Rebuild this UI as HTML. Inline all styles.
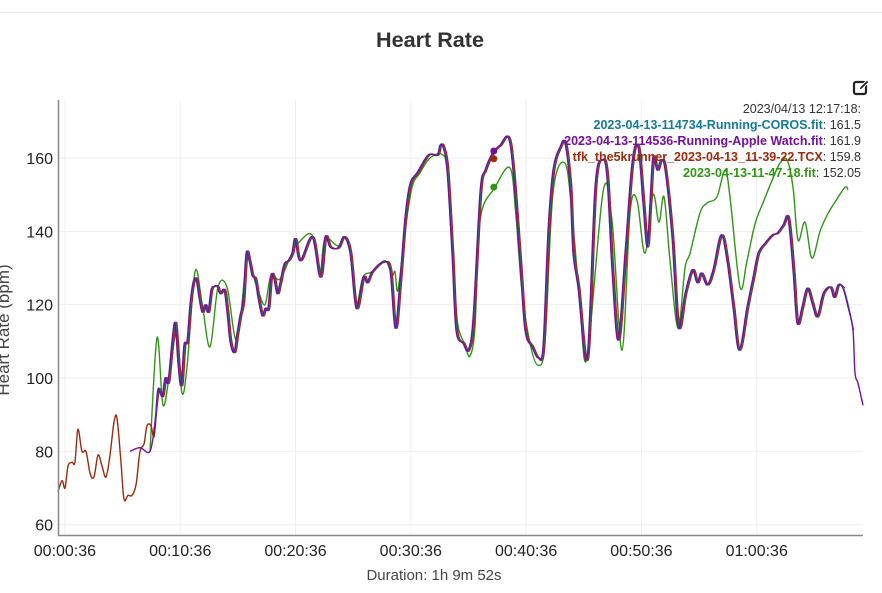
<!DOCTYPE html>
<html><head><meta charset="utf-8"><style>
html,body{margin:0;padding:0;background:#fff;width:882px;height:593px;overflow:hidden;font-family:"Liberation Sans",sans-serif}
svg{display:block}
</style></head><body>
<svg id="chart" width="882" height="593" font-family="Liberation Sans, sans-serif">
<line x1="0" y1="12.5" x2="882" y2="12.5" stroke="#e6e6e6"/>
<text x="430" y="47" text-anchor="middle" font-size="21" font-weight="bold" fill="#333" textLength="108" lengthAdjust="spacingAndGlyphs">Heart Rate</text>
<g id="grid"></g>
<g id="series"></g>
<g id="axes"></g>
<text transform="translate(9,330) rotate(-90)" text-anchor="middle" font-size="17" fill="#444">Heart Rate (bpm)</text>
<text x="434" y="580" text-anchor="middle" font-size="15" fill="#444">Duration: 1h 9m 52s</text>
<g transform="translate(853,79)">
<rect x="1" y="3" width="12" height="12" rx="2" fill="none" stroke="#222" stroke-width="2.2"/>
<path d="M6 11 L7 8 L14 1 L16 3 L9 10 Z" fill="#222" stroke="#fff" stroke-width="1"/>
</g>
<g id="legend" font-size="12.5" text-anchor="end"></g>
</svg>
<script>
const yTicks = [60, 80, 100, 120, 140, 160];
const xTickMinutes = [0.6, 10.6, 20.6, 30.6, 40.6, 50.6, 60.6];
const xTickLabels = ["00:00:36", "00:10:36", "00:20:36", "00:30:36", "00:40:36", "00:50:36", "01:00:36"];
const mainTime = [6.24,7.11,7.98,8.41,8.67,9.02,9.28,9.54,9.89,10.15,10.41,10.67,10.93,11.19,11.45,11.71,11.97,12.23,12.49,12.75,13.01,13.27,13.53,13.79,14.05,14.4,14.66,14.92,15.26,15.52,15.78,16.04,16.31,16.57,16.83,17.09,17.35,17.69,17.95,18.21,18.47,18.73,18.99,19.25,19.6,19.95,20.29,20.55,20.99,22.03,22.72,23.16,23.59,24.28,24.8,25.33,25.85,26.45,26.8,27.23,28.19,28.79,29.23,29.66,30.1,30.53,31.14,32.09,32.87,33.13,33.39,33.74,34.17,34.52,35.13,35.56,35.99,36.6,37.03,37.73,38.33,39.03,39.46,40.07,40.5,41.11,41.63,42.06,42.5,42.93,43.54,43.97,44.41,44.67,45.1,45.88,46.57,47.18,47.61,48.05,48.57,49.18,49.78,50.3,50.74,51.08,51.34,51.6,51.95,52.3,52.65,53.25,53.77,54.38,54.99,55.42,55.77,56.29,56.81,57.5,58.02,58.54,59.06,59.76,60.28,60.71,61.32,61.93,62.36,62.88,63.31,63.75,64.09,64.53,64.96,65.39,65.83,66.35,66.96,67.3,67.65,68.08,68.52,68.95,69.12,69.38,69.82];
const appleHR = [80,81,80,88,97,95,100,99,110,115,104,98,109,110,120,126,127,122,118,120,118,124,125,125,123,124,118,110,107,112,117,121,134,132,128,127,122,117,119,119,128,127,123,126,131,132,134,138,132,138.5,127.5,138.5,135.7,135.5,138.5,134,119,127.5,126,129,131.6,129.5,113.6,126.7,144,153,156,160.8,160.8,163.5,163,156.7,134,113,109.5,107.6,116,150.5,156.7,161.6,163.5,165.7,156.7,131.4,113,108.5,105.5,108.5,140,156.7,163,164,152,134,124.8,105.5,152,159.5,154.8,129.5,110.4,134,158.6,163,147.7,135.7,147.7,160.3,156.7,159.5,156.7,138.5,113.9,123,129.5,126,128.6,125.4,129.5,139,132,119.4,107.6,119.4,127.5,134,136.8,139,139.5,141.7,143.6,129.5,115,119.4,124.5,120.5,116.7,123,124.8,122,125.4,124.5,119.4,113,101.4,98.6,92.6];
const corosEnd = 68.95;
const tcxEnd = 68.4;
const tcxEarlyTime = [0,0.35,0.61,0.87,1.21,1.47,1.73,2.08,2.43,2.78,3.12,3.47,3.82,4.16,4.51,4.86,5.12,5.46,5.72,6.07,6.42,6.77,7.11,7.46,7.72,8.07,8.33,8.59];
const tcxEarlyHR = [69,72,70,76,77,77,86,80,80,74,73,79,76,73,79,88,89,77,67,68,68,71,80,82,87,87,84,92];
const greenTime = [7.98,8.59,9.11,9.71,10.32,10.75,11.19,11.88,12.49,13.18,13.88,14.66,15.52,16.39,16.83,17.35,17.95,18.47,19.25,20.29,20.9,22.03,22.72,23.16,24.28,24.8,25.33,25.85,26.45,27.23,28.36,28.97,29.23,29.49,30.1,30.7,31.4,32.26,33.3,33.74,34.17,34.61,35.3,35.73,36.17,36.6,37.9,39.2,39.7,40.2,40.9,41.63,42.24,42.93,43.97,44.58,45.27,45.88,47.27,48.05,48.92,49.61,50.22,50.91,51.6,52.12,52.56,53.08,53.77,54.38,54.81,55.68,56.29,57.15,57.85,58.28,59.15,59.76,60.45,61.14,62.01,62.62,63.23,63.75,64.18,64.79,65.39,66.09,66.7,67.39,68.26,68.52];
const greenHR = [80,111,92.6,102,113,96,103,129,120.5,108.5,124.8,124.8,110.4,133,129,124,120,128,127,134,137,139,129,138,136,138.5,134,120,127.5,129,132,128,129,124,140,152,156,160,161,157,138,116,109,106,114,143,152,157.3,145,125,110,103.5,110,150.5,158.6,145,120,105.5,150.7,143,107.6,145,148.5,134,150,142.5,149.4,132,113.6,130,134,145,147.7,149.4,156.7,149.4,124.8,132,142,147.7,154.5,158.6,159.5,152,137.6,142.5,132.7,140,144.4,148,152,151.3];
const hoverMinute = 37.8;
const legendNames = ["2023-04-13-114734-Running-COROS.fit","2023-04-13-114536-Running-Apple Watch.fit","tfk_the5krunner_2023-04-13_11-39-22.TCX","2023-04-13-11-47-18.fit"];
const legendValues = ["161.5","161.9","159.8","152.05"];
const hoverHR = [161.5, 161.9, 159.8, 152.05];
const colors = ["#137a9a","#750f9e","#9c2a0c","#2f9614"];

const NS="http://www.w3.org/2000/svg";
const X0=58, X1=863, Y_TOP=100, Y_BOT=535;
const xScale = t => X0 + t*11.53;
const yScale = v => 158 + (160 - v)*3.667;
function mk(tag, attrs, parent){const e=document.createElementNS(NS,tag);for(const k in attrs)e.setAttribute(k,attrs[k]);parent.appendChild(e);return e;}
const grid=document.getElementById('grid'), axes=document.getElementById('axes'), ser=document.getElementById('series'), leg=document.getElementById('legend');
yTicks.forEach(v=>{
  const l=mk('line',{x1:X0,x2:X1,y1:yScale(v),y2:yScale(v),stroke:'#eeeeee'},grid);
  
  
  const t=mk('text',{x:X0-5,y:yScale(v)+6,'text-anchor':'end','font-size':16,fill:'#222'},axes);
  t.textContent=v;
  
  
});
xTickMinutes.forEach((m,i)=>{
  const l=mk('line',{x1:xScale(m),x2:xScale(m),y1:Y_TOP,y2:Y_BOT,stroke:'#eeeeee'},grid);
  
  
  const t=mk('text',{x:xScale(m),y:556,'text-anchor':'middle','font-size':16,fill:'#222'},axes);
  t.textContent=xTickLabels[i];
  
  
});
const ya=mk('line',{x1:X0+0.5,x2:X0+0.5,y1:Y_TOP,y2:Y_BOT+1,stroke:'#888','stroke-width':1.5},axes);


const xa=mk('line',{x1:X0,x2:X1,y1:Y_BOT+0.5,y2:Y_BOT+0.5,stroke:'#888','stroke-width':1.5},axes);



function pathFrom(ts,vs){
  const P=ts.map((t,i)=>[xScale(t),yScale(vs[i])]);
  let d='M'+P[0][0].toFixed(1)+' '+P[0][1].toFixed(1);
  for(let i=0;i<P.length-1;i++){
    const p0=P[i-1]||P[i], p1=P[i], p2=P[i+1], p3=P[i+2]||p2;
    const c1x=p1[0]+(p2[0]-p0[0])/6, c1y=p1[1]+(p2[1]-p0[1])/6;
    const c2x=p2[0]-(p3[0]-p1[0])/6, c2y=p2[1]-(p3[1]-p1[1])/6;
    d+=' C'+c1x.toFixed(1)+' '+c1y.toFixed(1)+' '+c2x.toFixed(1)+' '+c2y.toFixed(1)+' '+p2[0].toFixed(1)+' '+p2[1].toFixed(1);
  }
  return d;
}
function draw(ts,vs,color,name){
  const p=mk('path',{d:pathFrom(ts,vs),fill:'none',stroke:color,'stroke-width':1.4,'stroke-linejoin':'round'},ser);
  
  
}
draw(greenTime,greenHR,colors[3],'series-green-fit');
const tcxT=[], tcxV=[];
tcxEarlyTime.forEach((t,i)=>{tcxT.push(t);tcxV.push(tcxEarlyHR[i]);});
mainTime.forEach((t,i)=>{const tt=t+0.15; if(tt>8.6 && tt<=tcxEnd){tcxT.push(tt);tcxV.push(appleHR[i]);}});
draw(tcxT,tcxV,colors[2],'series-tcx');
const cT=[],cV=[];
mainTime.forEach((t,i)=>{if(t>=8.4 && t<=corosEnd){cT.push(t+0.05);cV.push(appleHR[i]);}});
draw(cT,cV,colors[0],'series-coros');
draw(mainTime,appleHR,colors[1],'series-apple-watch');

[3,2,1].forEach(i=>{
  const c=mk('circle',{cx:xScale(hoverMinute),cy:yScale(hoverHR[i]),r:3.5,fill:colors[i]},ser);
  
  
});

const ts=mk('text',{x:861,y:113,fill:'#333'},leg);
ts.textContent='2023/04/13 12:17:18:';


legendNames.forEach((n,i)=>{
  const t=mk('text',{x:861,y:129+i*16},leg);
  const a=mk('tspan',{fill:colors[i],'font-weight':'bold'},t); a.textContent=n;
  const b=mk('tspan',{fill:'#333'},t); b.textContent=': '+legendValues[i];
  
  
});
</script>
</body></html>
